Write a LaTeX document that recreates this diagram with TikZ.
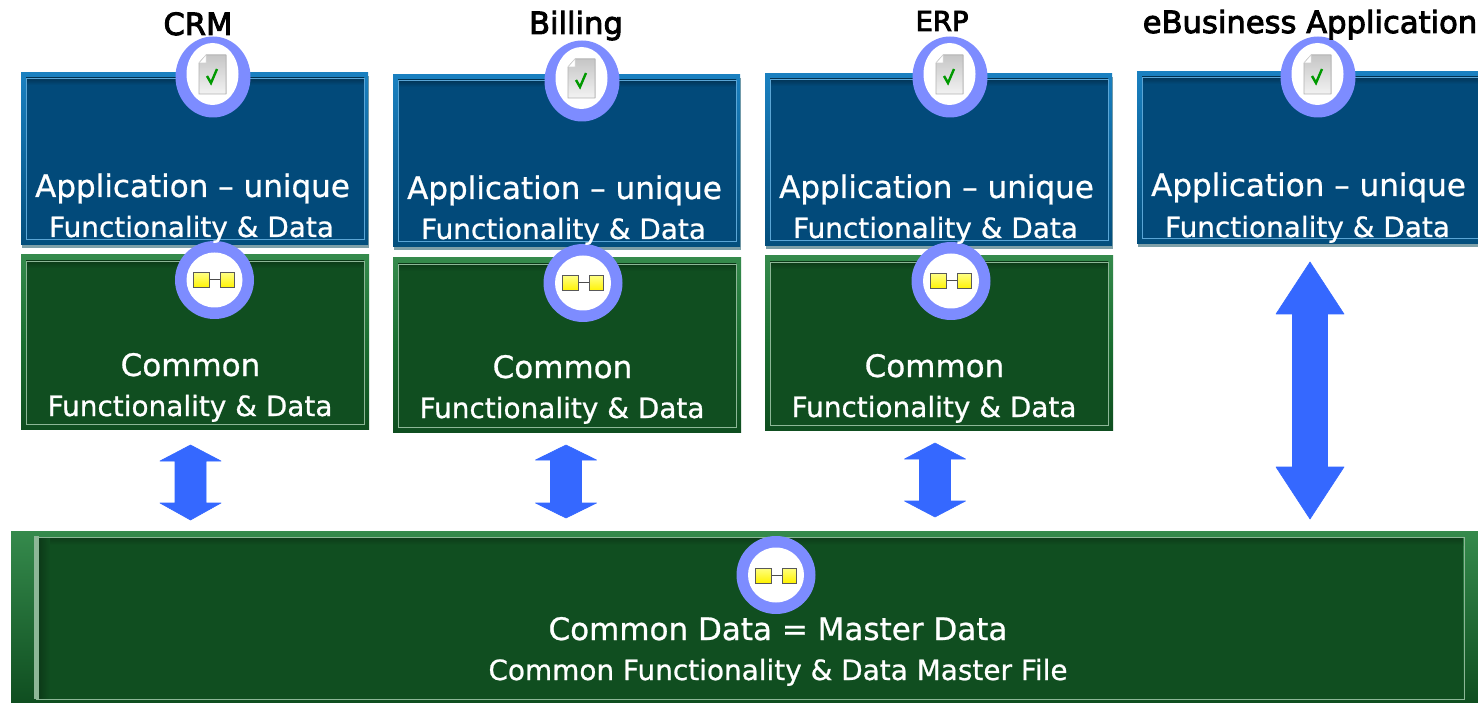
\documentclass[tikz,border=0pt]{standalone}
\usepackage{fontspec}
\setmainfont{DejaVu Sans}
\newfontfamily\titlefont[FakeBold=3]{DejaVu Sans}
\newfontfamily\labelfont[FakeBold=0.8]{DejaVu Sans}
\usetikzlibrary{calc}
\definecolor{blueedgeT}{HTML}{1A80C0}
\definecolor{blueedgeB}{HTML}{034E7C}
\definecolor{bluefill}{HTML}{024A7A}
\definecolor{blueline}{HTML}{5BA6D6}
\definecolor{greenedgeT}{HTML}{358A4C}
\definecolor{greenedgeM}{HTML}{1A6E30}
\definecolor{greenedgeB}{HTML}{0F4E20}
\definecolor{greenfill}{HTML}{104E20}
\definecolor{greenline}{HTML}{8DB797}
\definecolor{ringcol}{HTML}{7D8CFF}
\definecolor{arrowcol}{HTML}{3568FF}
\definecolor{shadowcol}{HTML}{7FA0A8}
\tikzset{
  x=1pt,y=-1pt,
  lab/.style={inner sep=0pt,anchor=base,text=white,font=\fontsize{31}{34}\labelfont},
  sublab/.style={inner sep=0pt,anchor=base,text=white,font=\fontsize{27.9}{29}\labelfont},
  coltitle/.style={inner sep=0pt,anchor=base,text=black,font=\fontsize{30.6}{32}\titlefont},
  smalltitle/.style={coltitle,font=\fontsize{27.5}{30}\titlefont},
  ring/.style={fill=ringcol,draw=none},
  hole/.style={fill=white,draw=none},
  blockarrow/.style={fill=arrowcol,draw=arrowcol,line width=0.6pt,line join=round},
}
% frame: x1 y1 x2 y2 name
\newcommand{\bluebox}[5]{%
  \fill[shadowcol] (#1+1,#2+3) rectangle (#3+1,#4+3);
  \shade[top color=blueedgeT,bottom color=blueedgeB] (#1,#2) rectangle (#3,#4);
  \fill[bluefill] (#1+5,#2+5) rectangle (#3-4,#4-6);
  \shade[top color=bluefill!70!black,bottom color=bluefill] (#1+5,#2+5) rectangle (#3-4,#2+12);
  \node[draw=blueline,line width=0.8pt,inner sep=0pt,anchor=north west,minimum width=#3-#1-9,minimum height=#4-#2-11] (#5) at (#1+5,#2+5) {};
}
\newcommand{\greenbox}[5]{%
  \shade[top color=greenedgeT,bottom color=greenedgeB,middle color=greenedgeM] (#1,#2) rectangle (#3,#4);
  \fill[greenfill] (#1+5,#2+6) rectangle (#3-5,#4-5);
  \shade[top color=greenfill!75!black,bottom color=greenfill] (#1+5,#2+6) rectangle (#3-5,#2+13);
  \node[draw=greenline,line width=0.8pt,inner sep=0pt,anchor=north west,minimum width=#3-#1-10,minimum height=#4-#2-11] (#5) at (#1+5,#2+6) {};
}
% document icon ring: cx cy
\newcommand{\docring}[2]{%
  \fill[ring] (#1,#2) ellipse [x radius=37.5,y radius=40.5];
  \fill[hole] (#1-0.5,#2-3) ellipse [x radius=26,y radius=31];
  \begin{scope}[shift={(#1-15,#2-22)}]
    \fill[top color=gray!45,bottom color=gray!10,draw=gray!60,line width=0.6pt]
      (8,0) -- (28,0) -- (28,39) -- (1,39) -- (1,8) -- cycle;
    \fill[white,draw=gray!35,line width=0.5pt] (8,0) -- (1,8) -- (8,8) -- cycle;
    \draw[green!60!black,line width=2.4pt] (9,21) -- (13,28) -- (19,14);
  \end{scope}
}
% linked squares ring: cx cy
\newcommand{\linkring}[2]{%
  \fill[ring] (#1,#2) ellipse [x radius=39.5,y radius=39];
  \fill[hole] (#1,#2) ellipse [x radius=28,y radius=27.5];
  \draw[gray!60!black,line width=1pt] (#1-7,#2) -- (#1+7,#2);
  \fill[top color=yellow!50!white,bottom color=yellow!90!orange,draw=black!65,line width=1pt] (#1-21,#2-7) rectangle (#1-5,#2+8);
  \fill[top color=yellow!50!white,bottom color=yellow!90!orange,draw=black!65,line width=1pt] (#1+6,#2-7) rectangle (#1+20,#2+8);
}
% double block arrow: cx top headbaseT headbaseB bottom halfshaft halfhead
\newcommand{\dblarrow}[7]{%
  \fill[blockarrow] (#1,#2) -- (#1+#7,#3) -- (#1+#6,#3) -- (#1+#6,#4) -- (#1+#7,#4) -- (#1,#5)
    -- (#1-#7,#4) -- (#1-#6,#4) -- (#1-#6,#3) -- (#1-#7,#3) -- cycle;
}
\begin{document}
\begin{tikzpicture}
\useasboundingbox (0,0) rectangle (1478,703);
\fill[white] (0,0) rectangle (1478,703);

\bluebox{21}{73}{368}{245}{app1}
\bluebox{393}{75}{740}{247}{app2}
\bluebox{765}{74}{1112}{246}{app3}
\bluebox{1137}{72}{1484}{244}{app4}

\greenbox{21}{255}{369}{429}{com1}
\greenbox{393}{258}{741}{432}{com2}
\greenbox{765}{256}{1113}{430}{com3}

% master box
\shade[top color=greenedgeT,middle color=greenedgeM,bottom color=greenedgeB] (11,531) rectangle (1478,703);
\fill[greenfill] (38,537) rectangle (1463,699);
\shade[top color=greenfill!75!black,bottom color=greenfill] (38,537) rectangle (1463,545);
\shade[left color=greenfill!75!black,right color=greenfill] (39,537) rectangle (50,699);
\fill[greenline] (34,536) rectangle (39,699);
\node[draw=greenline,line width=1.2pt,inner sep=0pt,anchor=north west,minimum width=1428,minimum height=162] (master) at (36,537) {};

\docring{213}{77}
\docring{582}{81}
\docring{950}{77}
\docring{1318}{77}

\linkring{214.5}{280}
\linkring{583}{283}
\linkring{951}{281}
\linkring{776}{575}

\dblarrow{190.5}{445}{461}{503}{520}{15.5}{30.5}
\dblarrow{566}{445}{460}{503}{518}{15.5}{30.5}
\dblarrow{935}{443}{459}{501}{517}{15.5}{30.5}
\dblarrow{1310}{262}{314}{467}{519}{17.5}{34}

\node[coltitle] (t1) at (198,35) {CRM};
\node[coltitle] (t2) at (576,34) {Billing};
\node[smalltitle] (t3) at (942,31) {ERP};
\node[coltitle] (t4) at (1310,33) {eBusiness Application};

\node[lab] (a1) at (192.5,197) {Application – unique};
\node[sublab] (s1) at (191.5,237) {Functionality \& Data};
\node[lab] (a2) at (564.5,199) {Application – unique};
\node[sublab] (s2) at (563.5,239) {Functionality \& Data};
\node[lab] (a3) at (936.5,198) {Application – unique};
\node[sublab] (s3) at (935.5,238) {Functionality \& Data};
\node[lab] (a4) at (1308.5,196) {Application – unique};
\node[sublab] (s4) at (1307.5,237) {Functionality \& Data};

\node[lab] (c1) at (190.5,376) {Common};
\node[sublab] (d1) at (190,416) {Functionality \& Data};
\node[lab] (c2) at (562.5,378) {Common};
\node[sublab] (d2) at (562,418) {Functionality \& Data};
\node[lab] (c3) at (934.5,377) {Common};
\node[sublab] (d3) at (934,417) {Functionality \& Data};

\node[lab] (m1) at (778,640) {Common Data = Master Data};
\node[sublab] (m2) at (778,680) {Common Functionality \& Data Master File};
\end{tikzpicture}
\end{document}
